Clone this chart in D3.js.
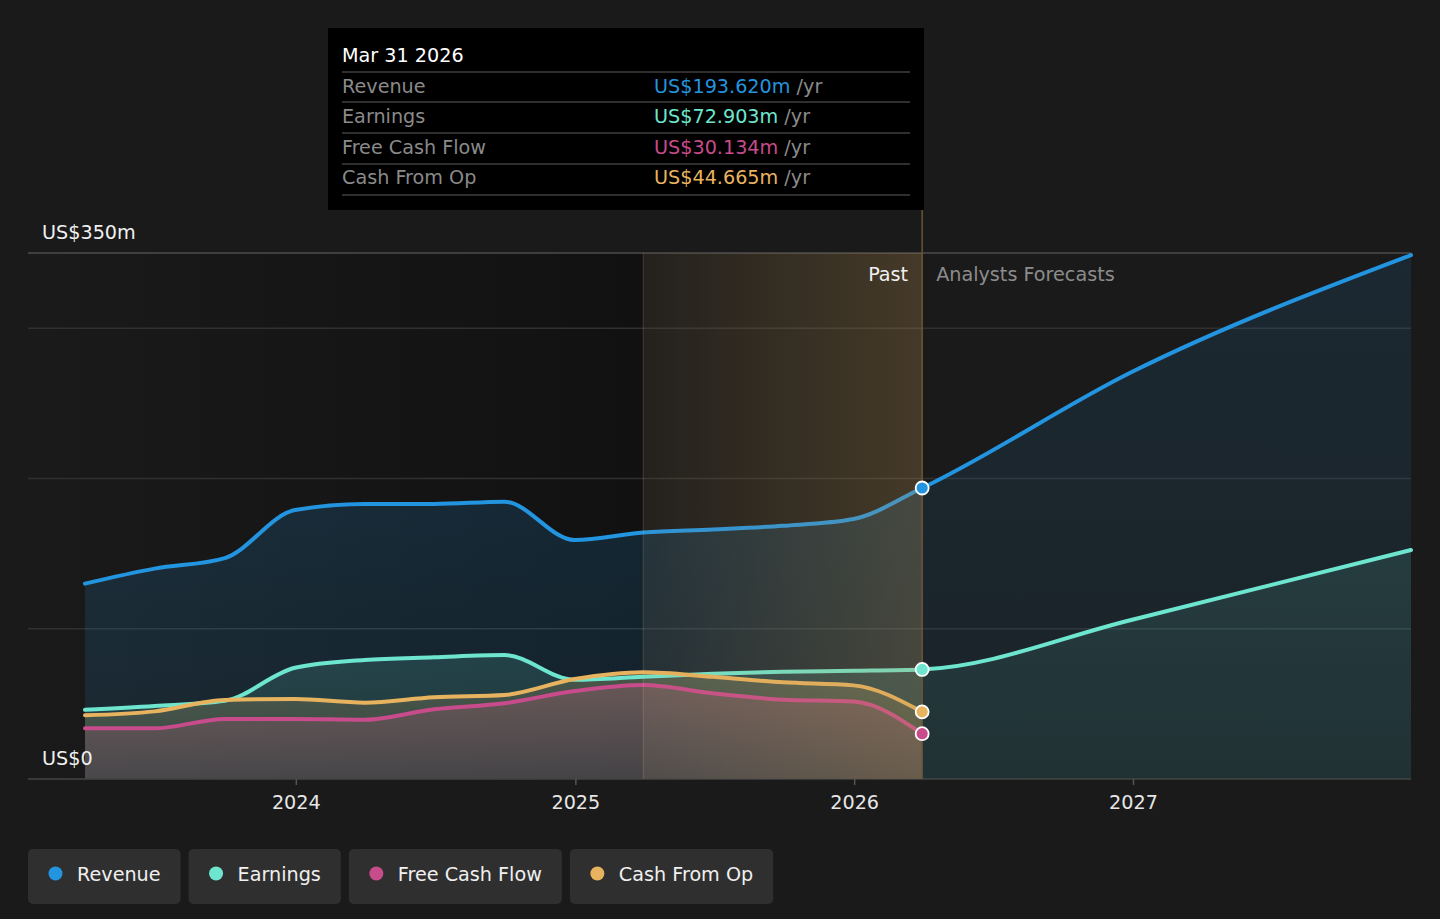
<!DOCTYPE html>
<html>
<head>
<meta charset="utf-8">
<script src="https://cdn.jsdelivr.net/npm/d3@7"></script>
<style>
  html, body { margin: 0; padding: 0; background: #1a1a1a; }
  svg { display: block; font-family: "DejaVu Sans", sans-serif; }
</style>
</head>
<body>
<div class="chart-container"></div>
<script>
// data (US$ m, trailing twelve months)
const pastDates = ["2023-03-31", "2023-06-30", "2023-09-30", "2023-12-31", "2024-03-31", "2024-06-30",
  "2024-09-30", "2024-12-31", "2025-03-31", "2025-06-30", "2025-09-30", "2025-12-31", "2026-03-31"];
const forecastDates = ["2026-12-31", "2027-12-31"];

const revenuePast = [130, 140, 147, 179, 183, 183, 184.5, 159, 164, 166, 168.5, 173, 193.62];
const earningsPast = [46, 48.5, 52, 74, 79.2, 81, 82.5, 66, 68, 70, 71.4, 72, 72.903];
const fcfPast = [33.7, 33.7, 40, 40, 39.4, 46.4, 50.4, 58.5, 62.5, 57, 52.8, 51.6, 30.134];
const cfoPast = [42.4, 45, 52.6, 53.2, 50.8, 54.4, 55.9, 66.5, 71, 68, 64.3, 62.3, 44.665];

const revenueForecast = [271, 348.6];
const earningsForecast = [106, 152.4];

const seriesNames = ["Revenue", "Earnings", "Free Cash Flow", "Cash From Op"];
const seriesColors = ["#2394df", "#6ee6cf", "#c84b8c", "#e8b35f"];

const xTickLabels = ["2024", "2025", "2026", "2027"];
const yGridValues = [100, 200, 300, 350];
const yLabels = ["US$350m", "US$0"];

const tooltipDate = "Mar 31 2026";
const highlightStart = "2025-03-31";

// layout
const width = 1440;
const height = 919;
const plotLeft = 28, plotRight = 1411, plotTop = 253, plotBottom = 779;
const fontSize = 19.2;

const parse = d3.timeParse("%Y-%m-%d");
const x = d3.scaleTime()
  .domain([parse("2023-03-31"), parse("2027-12-31")])
  .range([85, plotRight]);
const y = d3.scaleLinear().domain([0, 350]).range([plotBottom, plotTop]);

const svg = d3.select(".chart-container").append("svg")
  .attr("width", width)
  .attr("height", height);
const defs = svg.append("defs");

svg.append("rect").attr("width", width).attr("height", height).attr("fill", "#1a1a1a");

const lastPast = parse(pastDates[pastDates.length - 1]);
const xNow = x(lastPast);
const xHl = x(parse(highlightStart));

// darker band behind the past
const darkGrad = defs.append("linearGradient").attr("id", "dark").attr("x1", 0).attr("x2", 1).attr("y1", 0).attr("y2", 0);
darkGrad.append("stop").attr("offset", 0).attr("stop-color", "#000").attr("stop-opacity", 0);
darkGrad.append("stop").attr("offset", 1).attr("stop-color", "#000").attr("stop-opacity", 0.35);
svg.append("rect")
  .attr("x", plotLeft).attr("y", plotTop)
  .attr("width", xHl - plotLeft).attr("height", plotBottom - plotTop)
  .attr("fill", "url(#dark)");

// gridlines
svg.selectAll(".grid")
  .data(yGridValues)
  .enter()
  .append("line")
  .attr("class", "grid")
  .attr("x1", plotLeft).attr("x2", plotRight)
  .attr("y1", (d) => y(d)).attr("y2", (d) => y(d))
  .attr("stroke", (d) => (d === 350 ? "#4d4d4d" : "#303030"))
  .attr("stroke-width", 1.5);

// build series
const mk = (dates, vals) => dates.map((d, i) => ({ date: parse(d), value: vals[i] }));
const series = [
  { name: seriesNames[0], color: seriesColors[0], past: mk(pastDates, revenuePast), fc: mk(forecastDates, revenueForecast), a: 0.22, fa: 0.12 },
  { name: seriesNames[1], color: seriesColors[1], past: mk(pastDates, earningsPast), fc: mk(forecastDates, earningsForecast), a: 0.2, fa: 0.12 },
  { name: seriesNames[2], color: seriesColors[2], past: mk(pastDates, fcfPast), fc: [], a: 0.24, fa: 0 },
  { name: seriesNames[3], color: seriesColors[3], past: mk(pastDates, cfoPast), fc: [], a: 0.2, fa: 0 },
];
series.forEach((s) => { s.all = s.past.concat(s.fc); });

const line = d3.line().curve(d3.curveMonotoneX).x((d) => x(d.date)).y((d) => y(d.value));
const area = d3.area().curve(d3.curveMonotoneX).x((d) => x(d.date)).y0(y(0)).y1((d) => y(d.value));

// clip regions
defs.append("clipPath").attr("id", "clipPast").append("rect")
  .attr("x", 0).attr("y", 0).attr("width", xNow).attr("height", height);
defs.append("clipPath").attr("id", "clipFc").append("rect")
  .attr("x", xNow).attr("y", 0).attr("width", width - xNow).attr("height", height);

const drawOrder = [0, 1, 2, 3];
drawOrder.forEach((i) => {
  const s = series[i];
  const gp = defs.append("linearGradient").attr("id", "gp" + i).attr("x1", 0).attr("x2", 0).attr("y1", 0).attr("y2", 1);
  gp.append("stop").attr("offset", 0).attr("stop-color", s.color).attr("stop-opacity", s.a);
  gp.append("stop").attr("offset", 1).attr("stop-color", s.color).attr("stop-opacity", s.a * 0.5);
  svg.append("path").datum(s.all).attr("d", area).attr("fill", "url(#gp" + i + ")").attr("clip-path", "url(#clipPast)");
  if (s.fa > 0) {
    const gf = defs.append("linearGradient").attr("id", "gf" + i).attr("x1", 0).attr("x2", 0).attr("y1", 0).attr("y2", 1);
    gf.append("stop").attr("offset", 0).attr("stop-color", s.color).attr("stop-opacity", s.fa);
    gf.append("stop").attr("offset", 1).attr("stop-color", s.color).attr("stop-opacity", s.fa * 0.6);
    svg.append("path").datum(s.all).attr("d", area).attr("fill", "url(#gf" + i + ")").attr("clip-path", "url(#clipFc)");
  }
});

// axis line
svg.append("line")
  .attr("x1", plotLeft).attr("x2", plotRight).attr("y1", plotBottom).attr("y2", plotBottom)
  .attr("stroke", "#454545").attr("stroke-width", 1.5);

drawOrder.forEach((i) => {
  const s = series[i];
  svg.append("path").datum(s.all)
    .attr("d", line)
    .attr("fill", "none")
    .attr("stroke", s.color)
    .attr("stroke-width", 4)
    .attr("stroke-linejoin", "round")
    .attr("stroke-linecap", "round");
});

// highlighted last year of the past
const hlGrad = defs.append("linearGradient").attr("id", "hl").attr("x1", 0).attr("x2", 1).attr("y1", 0).attr("y2", 0);
hlGrad.append("stop").attr("offset", 0).attr("stop-color", "#c09550").attr("stop-opacity", 0.06);
hlGrad.append("stop").attr("offset", 1).attr("stop-color", "#c09550").attr("stop-opacity", 0.26);
svg.append("rect")
  .attr("x", xHl).attr("y", plotTop)
  .attr("width", xNow - xHl).attr("height", plotBottom - plotTop)
  .attr("fill", "url(#hl)");
svg.append("line")
  .attr("x1", xHl).attr("x2", xHl).attr("y1", plotTop).attr("y2", plotBottom)
  .attr("stroke", "#f0d8a8").attr("stroke-opacity", 0.13).attr("stroke-width", 1.5);
svg.append("line")
  .attr("x1", xNow).attr("x2", xNow).attr("y1", 210).attr("y2", plotBottom)
  .attr("stroke", "#6a5636").attr("stroke-width", 1.5);

// x axis
const xAxis = d3.axisBottom(x)
  .tickValues(xTickLabels.map((t) => parse(t + "-01-01")))
  .tickFormat(d3.timeFormat("%Y"))
  .tickSize(6)
  .tickPadding(10);
const gx = svg.append("g").attr("transform", `translate(0,${plotBottom})`).call(xAxis);
gx.select(".domain").remove();
gx.selectAll(".tick line").attr("stroke", "#555").attr("stroke-width", 1.5);
gx.selectAll(".tick text")
  .attr("fill", "#e6e6e6")
  .attr("font-size", fontSize)
  .attr("font-family", "DejaVu Sans");

// markers at the last reported point
svg.selectAll(".marker")
  .data(series)
  .enter()
  .append("circle")
  .attr("class", "marker")
  .attr("cx", (d) => x(d.past[d.past.length - 1].date))
  .attr("cy", (d) => y(d.past[d.past.length - 1].value))
  .attr("r", 6.5)
  .attr("fill", (d) => d.color)
  .attr("stroke", "#fff")
  .attr("stroke-width", 1.8);

// y labels
svg.append("text").attr("x", 42).attr("y", 239).text(yLabels[0]).attr("fill", "#f0f0f0").attr("font-size", fontSize);
svg.append("text").attr("x", 42).attr("y", 765).text(yLabels[1]).attr("fill", "#f0f0f0").attr("font-size", fontSize);

svg.append("text").attr("x", xNow - 14).attr("y", 281).attr("text-anchor", "end")
  .text("Past").attr("fill", "#f0f0f0").attr("font-size", fontSize);
svg.append("text").attr("x", xNow + 14).attr("y", 281)
  .text("Analysts Forecasts").attr("fill", "#8c8c8c").attr("font-size", fontSize);

// tooltip
const tip = svg.append("g");
tip.append("rect").attr("x", 328).attr("y", 28).attr("width", 596).attr("height", 182).attr("fill", "#000");
tip.append("text").attr("x", 342).attr("y", 62).text(tooltipDate).attr("fill", "#fff").attr("font-size", fontSize);
const rowY = [72, 102, 133, 164, 195];
const rowBase = [93, 123, 154, 184];
rowY.forEach((ry) => {
  tip.append("line").attr("x1", 342).attr("x2", 910).attr("y1", ry).attr("y2", ry)
    .attr("stroke", "#3f3f3f").attr("stroke-width", 1.5);
});
const fmt = d3.format(".3f");
series.forEach((s, i) => {
  const by = rowBase[i];
  tip.append("text").attr("x", 342).attr("y", by).text(s.name).attr("fill", "#8a8a8a").attr("font-size", fontSize);
  const t = tip.append("text").attr("x", 654).attr("y", by).attr("font-size", fontSize);
  t.append("tspan").attr("fill", s.color).text("US$" + fmt(s.past[s.past.length - 1].value) + "m");
  t.append("tspan").attr("fill", "#8a8a8a").text(" /yr");
});

// legend
let lx = 28;
series.forEach((s) => {
  const g = svg.append("g").attr("transform", `translate(${lx},849)`);
  const box = g.append("rect").attr("height", 55).attr("rx", 5).attr("fill", "#2f2f2f");
  g.append("circle").attr("cx", 27.5).attr("cy", 24.5).attr("r", 7).attr("fill", s.color);
  const t = g.append("text").attr("x", 49).attr("y", 32).text(s.name).attr("fill", "#f0f0f0").attr("font-size", fontSize);
  const w = 49 + t.node().getComputedTextLength() + 20;
  box.attr("width", w);
  lx += w + 8;
});
</script>
</body>
</html>
